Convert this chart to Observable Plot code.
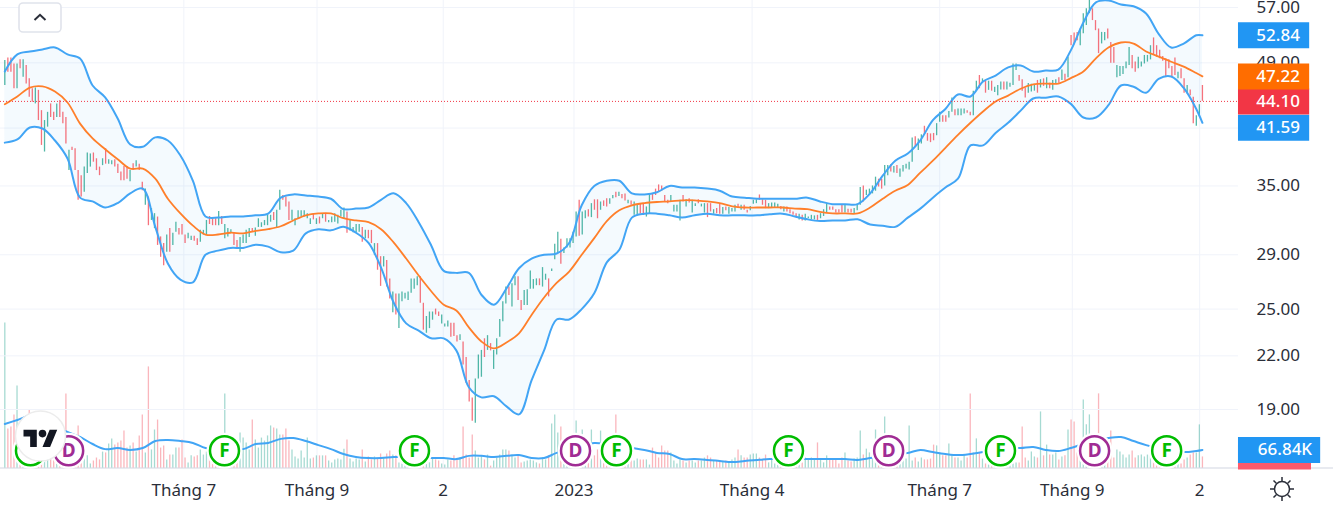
<!DOCTYPE html>
<html><head><meta charset="utf-8">
<script src="https://cdn.jsdelivr.net/npm/d3@7"></script>
<script src="https://cdn.jsdelivr.net/npm/@observablehq/plot@0.6"></script>
<style>
html,body{margin:0;padding:0;background:#fff;overflow:hidden}
#c{position:relative;width:1333px;height:509px;overflow:hidden}
</style></head><body><div id="c"></div>
<script>
const barHigh=[
49.3,49.65,49.65,48.85,48.85,49.4,49.4,48.65,46.9,45.65,
45.75,45.45,43.0,41.85,42.8,43.8,42.8,43.8,44.2,42.8,
42.2,38.6,38.9,38.75,36.5,36.0,36.85,38.3,38.2,38.3,
37.7,36.85,37.7,38.75,37.6,37.5,37.6,37.15,36.35,36.9,
36.9,36.5,37.2,37.5,37.15,35.35,34.7,33.95,32.9,32.45,
32.15,30.45,29.9,30.6,31.15,30.75,31.7,31.15,31.5,30.6,
30.75,30.5,30.5,30.3,31.0,31.0,31.85,32.2,32.0,32.0,
32.65,32.2,31.5,31.15,31.05,30.8,30.15,30.4,30.6,31.0,
31.15,31.15,31.2,32.0,31.65,31.85,32.3,32.3,32.55,32.75,
34.6,34.1,33.95,33.5,32.75,32.0,32.7,32.7,32.7,32.45,
32.0,32.45,32.0,32.15,32.45,32.45,31.85,32.15,
32.45,32.3,32.75,32.95,32.6,31.9,31.25,31.5,31.5,31.25,
31.0,31.0,31.0,29.9,29.9,28.85,28.85,28.55,27.15,26.2,
26.05,26.05,26.2,26.1,26.2,27.15,27.15,27.3,27.3,25.4,
24.5,24.8,24.8,25.0,24.8,24.6,24.0,24.2,24.05,24.05,
23.25,23.3,22.85,21.9,20.57,19.6,20.65,22.05,22.33,23.05,
23.25,22.75,22.33,23.05,24.3,25.5,26.55,26.55,26.8,27.3,
27.3,25.6,26.3,26.35,27.75,27.1,27.15,27.15,28.0,27.5,
27.15,27.9,29.85,30.85,30.25,29.55,30.3,30.3,30.85,32.6,
33.65,32.6,32.7,32.8,33.35,33.7,33.7,33.5,33.6,33.8,
33.8,34.1,34.4,34.4,34.2,34.25,33.65,33.6,33.5,33.2,
33.35,33.3,33.05,34.25,34.25,34.7,35.1,35.0,34.1,33.65,
34.1,33.2,33.2,33.65,34.1,33.7,33.8,33.65,33.35,33.7,
33.3,33.35,33.35,33.35,32.8,32.9,33.3,33.0,33.05,33.0,
32.9,33.2,33.3,33.2,33.2,32.75,33.1,33.65,33.7,34.15,
33.7,33.65,33.35,33.4,33.4,33.3,33.1,33.05,33.05,32.8,
32.6,32.45,32.4,32.3,32.4,32.15,32.3,32.25,32.3,32.45,
32.8,33.35,33.05,33.05,32.8,32.8,33.25,33.2,32.85,32.85,
32.9,33.3,34.85,35.0,34.6,34.7,35.0,35.85,35.65,35.65,
37.0,37.0,37.1,36.9,37.0,36.65,37.0,37.15,37.35,39.9,
40.05,39.8,40.25,41.2,40.4,40.35,40.4,41.5,42.8,42.4,
42.4,42.9,44.5,43.1,43.2,43.2,43.2,43.0,42.8,45.35,
46.6,47.33,46.9,46.6,46.6,46.6,45.85,46.06,
46.5,46.5,46.5,46.35,48.85,48.85,47.33,46.8,45.75,46.3,
46.2,46.2,46.7,46.8,46.9,47.05,46.35,46.7,46.8,47.05,
48.05,47.5,49.75,52.8,53.15,53.25,53.75,56.05,56.8,58.1,
56.8,55.0,53.75,53.25,53.25,53.75,51.8,51.1,48.65,48.5,
48.5,49.1,51.1,50.0,49.1,49.75,49.1,50.0,50.0,51.35,
52.45,51.35,50.7,49.85,49.55,49.4,48.5,49.65,47.75,48.2,
46.9,46.06,45.5,44.6,42.4,43.7,46.06];
const barLow=[
46.06,47.75,47.75,45.65,45.65,48.2,47.1,46.25,44.6,44.0,
43.8,41.85,39.1,38.4,41.1,42.2,41.85,42.2,42.2,41.5,
39.25,36.5,38.55,36.5,33.65,33.95,34.4,36.2,36.85,37.35,
36.5,36.0,37.0,37.15,37.15,37.1,36.85,36.2,35.5,35.5,
35.65,35.4,36.5,36.85,36.5,34.55,33.2,31.4,31.85,31.15,
29.75,28.8,28.15,29.2,29.2,29.75,30.85,30.6,30.6,29.9,
30.3,30.15,30.1,29.75,30.0,30.6,30.6,31.5,31.4,31.4,
31.4,31.5,30.3,30.45,30.75,29.75,29.45,29.2,29.9,29.9,
30.4,30.85,30.5,31.25,31.25,31.4,31.4,31.7,31.85,31.15,
32.75,33.65,33.05,31.85,31.85,31.4,32.0,32.15,32.15,32.0,
31.5,31.9,31.5,31.55,32.0,31.7,31.65,31.65,
31.7,31.55,32.15,32.0,30.75,30.95,30.8,30.8,30.85,30.0,
30.3,30.3,29.9,28.95,27.8,26.6,28.05,26.55,25.7,24.75,
24.6,23.7,25.5,25.7,25.6,26.1,26.4,26.65,25.4,23.6,
23.4,23.7,24.25,24.6,24.5,24.0,23.8,23.8,23.15,23.2,
22.85,22.95,21.45,20.4,19.4,18.4,18.3,20.65,20.75,21.9,
22.33,22.3,21.2,22.05,23.15,24.15,25.35,25.95,25.15,26.65,
25.6,24.9,25.25,25.25,26.4,26.4,26.65,26.65,26.55,27.05,
25.85,27.7,28.6,29.1,28.25,29.1,29.55,29.55,29.9,30.45,
30.5,30.6,32.0,32.15,32.1,32.75,32.0,32.75,33.1,33.05,
33.3,33.8,33.9,34.0,33.8,33.6,33.35,33.2,32.3,32.3,
32.45,32.4,32.15,32.4,33.65,34.1,34.4,34.5,33.5,33.35,
33.5,32.6,32.6,31.8,33.5,33.05,33.4,32.5,33.1,33.35,
33.05,32.5,32.1,32.6,32.4,32.45,32.4,32.4,32.7,32.4,
32.6,32.6,32.9,32.75,32.75,32.5,32.7,33.3,33.35,33.65,
33.2,32.9,32.9,32.9,32.9,32.9,32.8,32.6,32.6,32.45,
32.3,32.1,31.9,31.8,31.8,32.0,31.9,31.9,31.85,32.0,
32.2,32.5,32.75,32.75,32.5,32.5,32.5,32.5,32.5,32.5,
32.45,32.7,33.2,33.5,34.1,34.2,34.25,34.5,34.9,34.7,
35.0,36.0,36.35,36.25,36.2,35.85,36.35,36.65,36.55,37.35,
38.9,38.55,39.25,40.25,39.55,39.4,39.6,40.15,41.65,41.65,
41.65,42.15,42.8,42.4,42.4,42.4,42.6,42.7,42.4,42.4,
45.45,45.65,46.5,45.1,45.45,45.35,45.2,44.8,
45.5,45.5,45.5,45.85,46.06,47.97,46.6,45.35,44.5,45.1,
45.25,45.35,45.1,45.75,45.95,45.65,45.65,45.45,46.3,46.35,
46.7,46.7,47.05,51.35,51.5,52.05,51.35,53.05,54.25,56.05,
55.0,53.5,50.25,51.6,52.05,52.3,48.95,48.95,47.05,47.2,
47.45,48.2,48.65,48.2,47.75,48.2,48.45,48.85,49.1,49.4,
50.0,49.75,49.55,49.2,47.1,48.2,47.1,47.33,46.9,46.9,
45.1,45.0,44.8,41.5,41.2,42.3,44.1];
const barUp=[
1,0,0,0,1,0,1,0,0,0,
1,0,0,1,1,0,0,1,0,0,
0,1,0,0,0,0,1,1,1,0,
0,0,1,0,1,1,0,0,0,0,
0,1,0,1,0,0,1,0,1,1,
0,0,0,1,0,1,1,0,0,0,
1,1,0,0,1,1,1,0,0,0,
1,0,1,1,1,0,0,1,1,1,
1,0,1,1,1,1,1,1,0,1,
1,0,0,0,1,1,1,1,1,1,
1,0,1,0,1,0,1,1,
1,1,1,1,0,1,1,1,1,0,
1,0,0,1,0,0,1,0,0,1,
0,1,1,1,1,1,1,1,0,0,
1,1,1,0,0,1,1,1,0,0,
0,1,0,0,0,0,1,1,1,0,
1,0,1,1,1,1,1,0,1,1,
0,0,1,1,1,1,1,0,1,1,
0,1,1,1,0,1,1,1,1,1,
0,1,1,0,1,0,0,1,0,0,
1,1,0,1,0,0,1,0,1,1,
0,0,1,1,0,0,0,0,0,0,
1,1,1,1,0,1,0,1,1,0,
1,1,0,0,1,0,0,1,0,1,
1,1,0,1,0,0,1,1,1,0,
0,0,1,1,1,1,0,1,0,0,
0,0,1,0,1,1,1,1,0,1,
1,1,0,0,0,0,0,1,0,0,
1,1,1,0,1,1,1,1,0,0,
1,1,0,1,0,1,1,1,1,1,
0,1,1,0,0,0,0,1,1,0,
0,1,1,0,1,1,1,0,0,1,
1,0,1,0,1,0,1,1,
1,0,1,1,1,1,0,0,0,1,
1,1,0,1,0,1,0,1,1,0,
1,0,1,0,0,0,1,1,1,1,
0,0,0,1,1,0,0,0,1,1,
1,1,1,0,0,1,1,1,1,1,
0,0,0,0,0,0,0,0,1,0,
0,1,0,0,1,1,0];
const barVolumeK=[
538,145,152,197,304,130,111,141,215,130,
93,82,74,45,52,56,93,119,104,104,
275,70,45,30,156,37,37,45,15,26,
37,30,59,56,89,108,85,93,100,137,
74,82,93,59,119,197,56,375,67,141,
178,74,82,30,48,48,74,74,104,37,
19,45,41,45,67,48,59,74,26,22,
11,11,275,19,19,26,48,130,111,93,
67,178,104,74,111,100,119,156,148,145,
122,122,145,100,67,41,33,63,37,111,
33,37,45,45,45,45,26,19,30,33,
30,70,104,33,22,33,30,67,22,41,
30,41,33,52,37,52,63,48,45,19,
15,11,11,11,11,11,15,15,15,19,
37,30,26,15,11,30,26,45,33,37,
152,48,37,122,63,37,45,30,48,7,
26,37,48,67,67,63,48,37,48,19,
22,26,30,26,19,15,37,30,45,163,
197,130,152,56,37,30,22,174,19,141,
19,22,141,45,67,137,26,11,11,11,
197,11,11,22,37,30,26,33,30,30,
30,11,74,56,37,82,63,63,56,26,
15,30,26,19,26,26,19,26,26,37,
45,37,26,26,26,22,26,22,30,37,
67,45,37,37,48,52,52,37,33,48,
19,30,15,11,11,7,7,7,7,11,
15,19,37,30,37,30,93,30,19,45,
30,30,30,15,37,56,26,22,33,37,
137,48,70,56,67,141,26,11,189,11,
11,11,19,26,33,33,156,26,37,22,
37,30,30,33,85,82,56,45,45,89,
45,37,37,26,48,37,275,56,108,56,
33,15,11,11,7,7,7,7,11,11,
15,19,19,152,37,26,59,41,37,208,
45,85,48,48,56,30,41,45,141,178,
171,56,37,252,160,197,37,19,275,15,
26,48,137,37,67,59,48,37,48,63,
37,45,48,41,48,45,26,15,15,11,
11,11,15,15,22,15,30,37,48,56,
56,160,41];
const bandUpper=[
47.85,50.14,50.54,50.83,51.1,50.14,49.57,46.06,44.58,42.09,
39.2,38.95,39.97,39.63,38.04,35.5,32.2,32.1,32.2,32.2,
32.3,32.45,33.9,34.2,34.1,34.0,33.8,32.85,32.9,33.0,
33.7,34.3,33.4,31.7,29.75,27.75,27.6,27.6,26.0,25.3,
26.45,27.95,28.7,29.0,29.1,29.95,33.2,35.0,35.5,35.5,
34.3,34.2,34.4,35.0,34.85,34.85,34.75,34.55,34.0,33.9,
33.8,33.8,33.8,33.8,33.9,33.55,33.3,33.3,33.3,34.3,
36.0,37.5,38.25,39.65,41.9,43.2,44.94,44.7,46.56,47.33,
48.4,48.65,47.85,47.97,48.1,50.7,54.7,57.8,58.1,57.47,
57.2,56.07,53.05,51.1,51.65,52.84,52.84];
const bandLower=[
39.4,39.74,41.07,40.95,39.63,37.73,33.9,33.55,33.0,33.4,
34.3,34.75,31.3,28.32,27.1,26.9,29.0,29.33,29.55,29.55,
29.8,29.65,29.2,29.33,30.75,31.1,31.0,31.3,30.8,29.95,
28.0,25.45,24.04,23.57,23.08,23.08,22.33,20.19,19.64,19.7,
19.16,18.75,20.57,22.33,24.3,24.3,25.0,26.1,28.4,29.4,
32.1,32.45,32.45,32.3,32.1,32.3,32.45,32.3,32.3,32.3,
32.3,32.4,32.45,32.2,31.95,31.8,31.85,31.85,31.95,31.5,
31.4,31.3,32.1,32.9,33.9,34.85,35.7,39.1,39.1,40.45,
41.6,43.0,44.45,44.55,44.7,43.8,42.2,42.2,43.65,46.06,
45.9,45.15,46.9,47.2,45.75,43.2,41.59];
const bandMiddle=[
43.75,44.7,45.8,45.95,45.3,43.97,41.5,39.85,38.7,37.65,
36.7,36.7,35.7,33.8,32.47,31.4,30.65,30.65,30.8,30.75,
30.95,31.1,31.35,31.85,32.3,32.47,32.47,32.05,31.85,31.7,
31.1,30.0,28.7,27.4,26.25,25.3,24.9,23.78,22.88,22.45,
22.82,23.4,24.6,25.8,26.85,27.7,29.0,30.35,31.8,32.75,
33.2,33.4,33.5,33.55,33.65,33.65,33.55,33.4,33.1,33.0,
33.0,33.0,33.0,32.9,32.85,32.6,32.47,32.47,32.47,33.0,
33.8,34.55,35.1,36.3,37.5,38.85,40.25,41.6,42.9,44.1,
44.8,45.65,46.2,46.3,46.3,47.0,47.85,49.6,51.1,51.8,
51.65,50.55,49.85,49.15,48.5,47.65,47.22];
const volumeMA=[
163,178,193,174,156,134,115,89,70,74,
67,74,100,104,100,93,74,70,70,70,
89,93,108,111,100,85,70,52,41,37,
37,41,41,41,37,37,33,45,45,41,
45,48,37,37,56,67,82,93,89,82,
74,67,56,52,33,33,30,26,22,26,
30,33,33,33,33,33,33,33,30,37,
45,52,56,67,59,52,48,52,59,70,
74,74,78,67,63,74,89,100,111,115,
100,85,74,67,59,63,66.84];
const priceGridLines=[19,22,25,29,35,41,49,57];
const priceTickLabels=[19,22,25,29,35,49,57];
const xTickBars=[58.6,102.2,143.5,186.3,244.6,306,349.4,391.1];
const xTickLabels=["Tháng 7","Tháng 9","2","2023","Tháng 4","Tháng 7","Tháng 9","2"];
const eventBars=[8.4,71.9,134.1,200.2,256.5,325.9,380.3,20.9,186.8,289.3,356.7];
const eventKinds=["F","F","F","F","F","F","F","D","D","D","D"];
const lastPrice=44.10;
const priceLabels=[52.84,41.59,44.10,47.22];
const priceLabelColors=["#2196f3","#2196f3","#f23645","#ff6d00"];
const volumeLabel=66.84, lastVolume=41;

const UP="#089981",DOWN="#f23645",TEXT="#2a2e39",GRID="#f0f3fa";
const FONT='"Noto Sans",sans-serif';
const sampleBar=i=>i<96?i*4.105:392;
const bars=barHigh.map((h,i)=>({i,h,l:barLow[i],up:barUp[i],v:barVolumeK[i]}));
const band=bandUpper.map((u,i)=>({x:sampleBar(i),u,l:bandLower[i],m:bandMiddle[i],ma:volumeMA[i]}));
const events=eventBars.map((x,i)=>({x,k:eventKinds[i]}));
const xDomain=[-1.41,434.9];
const AXIS_LEFT=403.8, LABEL_RIGHT=427.1, LABEL_TEXT=423.9, VOL_RIGHT=430.7, VOL_TEXT=427.9, VOL_RED=427.7;
const volTop=467.5*3.71;
const common={width:1333,height:509,marginTop:0,marginRight:0,marginBottom:0,marginLeft:0,style:{background:"transparent",fontFamily:FONT}};

const volumePlot=Plot.plot({...common,
  x:{domain:xDomain,range:[0,1333]},
  y:{domain:[0,volTop],range:[467.5,0],axis:null},
  marks:[
    Plot.ruleX(xTickBars,{x:d=>d,y1:0,y2:volTop,stroke:GRID,strokeWidth:1}),
    Plot.ruleY([0],{stroke:"#e0e3eb",strokeWidth:1.5}),
    Plot.ruleX(bars,{x:"i",y1:0,y2:"v",stroke:d=>d.up?UP:DOWN,strokeOpacity:.36,strokeWidth:1.3}),
    Plot.line(band,{x:"x",y:"ma",stroke:"#42a5f5",strokeWidth:2,curve:"catmull-rom"}),
    Plot.dot(events,{x:"x",y:()=>64,r:18,fill:"white",stroke:"none"}),
    Plot.dot(events,{x:"x",y:()=>64,r:14.5,fill:"white",strokeWidth:2.5,stroke:d=>d.k==="F"?"#00bc00":"#a02c94"}),
    Plot.text(events,{x:"x",y:()=>64,text:"k",fill:d=>d.k==="F"?"#00bc00":"#a02c94",fontSize:19,fontWeight:700}),
    Plot.axisX(xTickBars,{anchor:"bottom",tickSize:0,tickPadding:0,dy:-26,tickFormat:d=>xTickLabels[xTickBars.indexOf(d)],fontSize:17,fill:TEXT}),
    Plot.ruleY([lastVolume],{x1:AXIS_LEFT,x2:VOL_RED,stroke:"#ff5a6b",strokeWidth:25}),
    Plot.ruleY([volumeLabel],{x1:AXIS_LEFT,x2:VOL_RIGHT,stroke:"#2196f3",strokeWidth:26}),
    Plot.text([volumeLabel],{x:VOL_TEXT,y:d=>d,text:d=>d.toFixed(2)+"K",textAnchor:"end",fill:"white",fontSize:17,fontWeight:500})
  ]});

const pricePlot=Plot.plot({...common,
  x:{domain:xDomain,range:[0,1333],axis:null},
  y:{type:"log",domain:[19,57],range:[409,7]},
  marks:[
    Plot.ruleY(priceGridLines,{x1:xDomain[0],x2:AXIS_LEFT,stroke:GRID,strokeWidth:1}),
    Plot.areaY(band,{x:"x",y1:"l",y2:"u",fill:"#2196f3",fillOpacity:.05,curve:"catmull-rom"}),
    Plot.ruleX(bars,{x:"i",y1:"l",y2:"h",stroke:d=>d.up?UP:DOWN,strokeWidth:1.3,strokeOpacity:.7}),
    Plot.line(band,{x:"x",y:"u",stroke:"#42a5f5",strokeWidth:2,curve:"catmull-rom"}),
    Plot.line(band,{x:"x",y:"l",stroke:"#42a5f5",strokeWidth:2,curve:"catmull-rom"}),
    Plot.line(band,{x:"x",y:"m",stroke:"#ff7f2a",strokeWidth:1.8,curve:"catmull-rom"}),
    Plot.ruleY([lastPrice],{x1:xDomain[0],x2:AXIS_LEFT,stroke:"#f23645",strokeWidth:1,strokeDasharray:"1 2"}),
    Plot.axisY(priceTickLabels,{anchor:"left",x:LABEL_TEXT,tickSize:0,tickPadding:0,textAnchor:"end",tickFormat:d=>d.toFixed(2),fontSize:17,fill:TEXT}),
    ...priceLabels.flatMap((p,i)=>{
      const dy=p===41.59?5:0;
      return [
        Plot.ruleY([p],{x1:AXIS_LEFT,x2:LABEL_RIGHT,stroke:priceLabelColors[i],strokeWidth:26,dy}),
        Plot.text([p],{x:LABEL_TEXT,y:d=>d,dy,text:d=>d.toFixed(2),textAnchor:"end",fill:"white",fontSize:17,fontWeight:500})
      ];
    })
  ]});

const root=document.getElementById("c");
for(const p of [volumePlot,pricePlot]){p.style.position="absolute";p.style.left="0";p.style.top="0";root.appendChild(p);}
const overlay=document.createElement("div");
overlay.style.cssText="position:absolute;left:0;top:0;width:1333px;height:509px;pointer-events:none";
overlay.innerHTML=`<svg width="1333" height="509" style="position:absolute;left:0;top:0">
<rect x="19" y="3" width="42" height="29" rx="4" fill="#fff" stroke="#e0e3eb" stroke-width="1.6"/>
<path d="M34.5 20 L40 14.8 L45.5 20" fill="none" stroke="#2a2e39" stroke-width="2"/>
<circle cx="40.5" cy="436" r="25" fill="#fff" stroke="#ececec" stroke-width="1.5"/>
<g transform="translate(23.5,426) scale(.95)" fill="#131722"><path d="M14 22H7V11H0V4h14v18zM28 22h-8l7.5-18h8L28 22z"/><circle cx="20" cy="8" r="4"/></g>
<g transform="translate(1282,489)" fill="none" stroke="#2a2e39" stroke-width="1.5"><circle r="7.5"/>
<path d="M0-8V-12M0 8V12M-8 0H-12M8 0H12M-5.7-5.7L-8.5-8.5M5.7-5.7L8.5-8.5M-5.7 5.7L-8.5 8.5M5.7 5.7L8.5 8.5"/></g>
</svg>`;
root.appendChild(overlay);
</script></body></html>
